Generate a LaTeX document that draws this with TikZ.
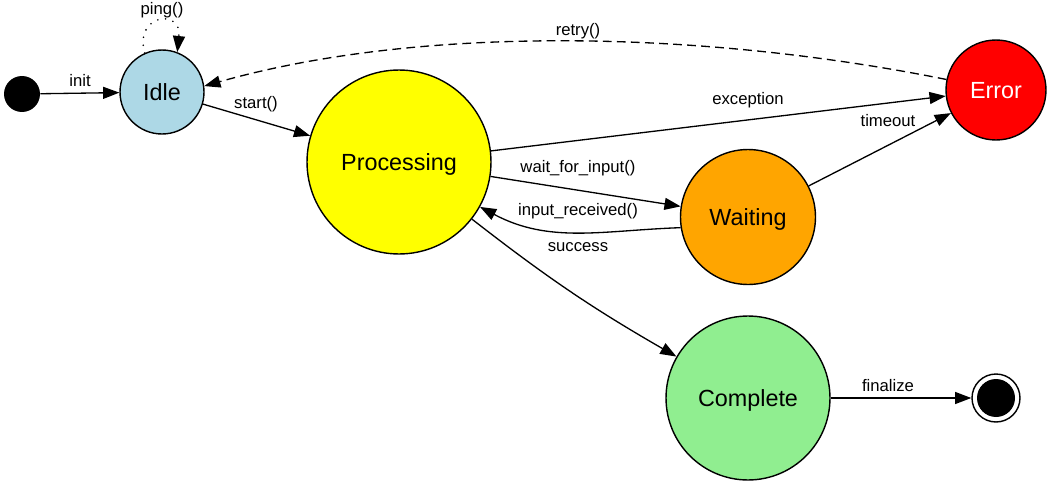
\documentclass[tikz,border=0pt]{standalone}
\usepackage{fontspec}
\setmainfont{Liberation Sans}
\usetikzlibrary{arrows.meta}
\definecolor{cidle}{HTML}{ADD8E6}
\definecolor{cproc}{HTML}{FFFF00}
\definecolor{cwait}{HTML}{FFA500}
\definecolor{cerr}{HTML}{FF0000}
\definecolor{ccomp}{HTML}{90EE90}
\tikzset{
  state/.style={circle, draw=black, line width=0.8pt, inner sep=0pt, font=\fontsize{13.3}{15}\selectfont, text height=12.6pt, text depth=3pt},
  lbl/.style={font=\fontsize{9.5}{11}\selectfont, inner sep=0pt, anchor=center, text height=6.8pt, text depth=2pt},
  edge/.style={line width=0.75pt, -{Triangle[length=9.2pt,width=6.8pt]}},
  dotline/.style={edge, line cap=round, dash pattern=on 0pt off 4.5pt, line width=1pt},
}
\begin{document}
\begin{tikzpicture}[x=0.02cm, y=-0.02cm]
\useasboundingbox (0,0) rectangle (1052,487);
\node[circle, fill=black, minimum size=0.72cm, inner sep=0pt] (start) at (22,94) {};
\node[state, fill=cidle, minimum size=1.68cm] (idle) at (162,92) {Idle};
\node[state, fill=cproc, minimum size=3.68cm] (proc) at (399,162) {Processing};
\node[state, fill=cwait, minimum size=2.7cm] (wait) at (748,217) {Waiting};
\node[state, fill=cerr, minimum size=2cm, text=white] (err) at (996,90) {Error};
\node[state, fill=ccomp, minimum size=3.28cm] (comp) at (748,398) {Complete};
\node[circle, draw=black, line width=0.8pt, minimum size=0.96cm, inner sep=0pt] (end) at (996,398) {};
\node[circle, fill=black, minimum size=0.76cm, inner sep=0pt] (endin) at (end.center) {};

\draw[edge] (start) -- (idle) node[lbl] at (80,82) {init};
\draw[dotline] (idle.114) .. controls (134,14) and (182,8) .. (idle.69);
\node[lbl] (lping) at (162,10) {ping()};
\draw[edge] (idle) -- (proc) node[lbl] at (256,104) {start()};
\draw[edge, dashed, dash pattern=on 5pt off 3pt] (err.168) .. controls (700,30) and (420,25) .. (idle.8);
\node[lbl] (lretry) at (578,31) {retry()};
\draw[edge] (proc) -- (err) node[lbl] at (748,100) {exception};
\draw[edge] (wait) -- (err) node[lbl] at (888,122) {timeout};
\draw[edge] (proc) -- (wait) node[lbl] at (578,168) {wait\_for\_input()};
\draw[edge] (wait.189) to[out=182, in=-28] (proc.-29);
\node[lbl] (lrec) at (578,211) {input\_received()};
\draw[edge] (proc) to[bend right=4] (comp);
\node[lbl] (lsucc) at (578,247) {success};
\draw[edge] (comp) -- (end) node[lbl] at (888,387) {finalize};
\end{tikzpicture}
\end{document}
